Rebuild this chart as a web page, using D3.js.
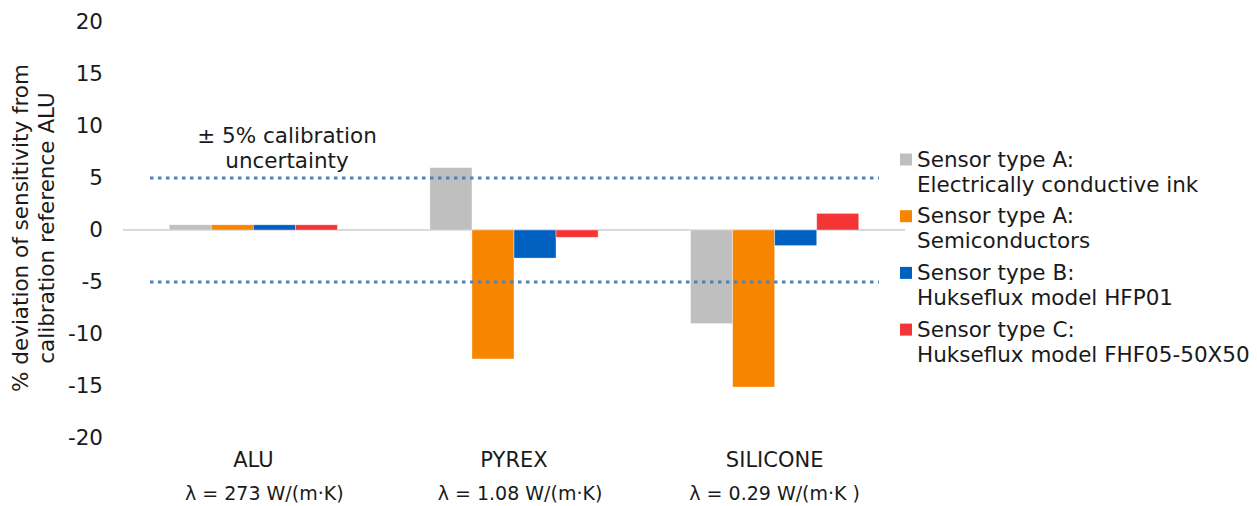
<!DOCTYPE html>
<html>
<head>
<meta charset="utf-8">
<script src="https://cdn.jsdelivr.net/npm/d3@7"></script>
<style>
  body { margin: 0; background: #fff; }
  svg { display: block; }
</style>
</head>
<body>
<svg id="chart" width="1257" height="506"></svg>
<script>
const materials = ["ALU", "PYREX", "SILICONE"];
const conductivity = ["λ = 273 W/(m·K)", "λ = 1.08 W/(m·K)", "λ = 0.29 W/(m·K )"];
const seriesNames = [
  ["Sensor type A:", "Electrically conductive ink"],
  ["Sensor type A:", "Semiconductors"],
  ["Sensor type B:", "Hukseflux model HFP01"],
  ["Sensor type C:", "Hukseflux model FHF05-50X50"]
];
const seriesColors = ["#bfbfbf", "#f88500", "#0060c0", "#f43535"];
// values per series, in material order
const inkValues = [0.5, 6.0, -9.0];
const semiValues = [0.5, -12.4, -15.1];
const hfp01Values = [0.5, -2.7, -1.5];
const fhf05Values = [0.5, -0.7, 1.6];
const seriesValues = [inkValues, semiValues, hfp01Values, fhf05Values];
const yTicks = [20, 15, 10, 5, 0, -5, -10, -15, -20];
const uncertaintyLimits = [5, -5];

const svg = d3.select("#chart");
const font = "DejaVu Sans, Verdana, sans-serif";
const ink = "#1a1a1a";

const x0 = d3.scaleBand().domain(materials).range([123, 905]).paddingInner(0).paddingOuter(0);
const x1 = d3.scaleBand().domain(d3.range(seriesValues.length))
  .range([0, x0.bandwidth()]).paddingOuter(1.1).paddingInner(0);
const y = d3.scaleLinear().domain([-20, 20]).range([438, 22]);

// y tick labels (plain hyphen like the original)
const yAxis = svg.append("g").attr("transform", "translate(103,0)")
  .call(d3.axisLeft(y).tickValues(yTicks).tickSize(0).tickPadding(0)
    .tickFormat(d => String(d)));
yAxis.select(".domain").remove();
yAxis.selectAll("text")
  .attr("font-family", font).attr("font-size", 21.5).attr("fill", ink);

// zero line
svg.append("line")
  .attr("x1", 123).attr("x2", 905)
  .attr("y1", y(0)).attr("y2", y(0))
  .attr("stroke", "#d9d9d9").attr("stroke-width", 2);

// bars
materials.forEach((m, mi) => {
  const g = svg.append("g").attr("transform", `translate(${x0(m)},0)`);
  seriesValues.forEach((vals, si) => {
    const v = vals[mi];
    g.append("rect")
      .attr("x", x1(si))
      .attr("width", x1.bandwidth())
      .attr("y", y(Math.max(0, v)))
      .attr("height", Math.abs(y(v) - y(0)))
      .attr("fill", seriesColors[si])
      .attr("stroke", "#fff").attr("stroke-opacity", 0.5).attr("stroke-width", 0.75);
  });
});

// uncertainty lines
svg.selectAll(".limit").data(uncertaintyLimits).join("line")
  .attr("class", "limit")
  .attr("x1", 150).attr("x2", 879)
  .attr("y1", d => y(d)).attr("y2", d => y(d))
  .attr("stroke", "#4f81bd").attr("stroke-width", 3.2)
  .attr("stroke-dasharray", "3.5,4.5");

// annotation
svg.append("text").attr("x", 287).attr("y", 143).attr("text-anchor", "middle")
  .attr("font-family", font).attr("font-size", 21.5).attr("fill", ink)
  .text("± 5% calibration");
svg.append("text").attr("x", 287).attr("y", 168).attr("text-anchor", "middle")
  .attr("font-family", font).attr("font-size", 21.5).attr("fill", ink)
  .text("uncertainty");

// y axis title
const yt = svg.append("text")
  .attr("transform", `translate(0,228) rotate(-90)`)
  .attr("text-anchor", "middle")
  .attr("font-family", font).attr("font-size", 21.5).attr("fill", ink);
yt.append("tspan").attr("x", 0).attr("y", 28).text("% deviation of sensitivity from");
yt.append("tspan").attr("x", 0).attr("y", 54).text("calibration reference ALU");

// category labels
svg.selectAll(".cat").data(materials).join("text")
  .attr("class", "cat")
  .attr("x", d => x0(d) + x0.bandwidth() / 2)
  .attr("y", 467)
  .attr("text-anchor", "middle")
  .attr("font-family", font).attr("font-size", 21).attr("fill", ink)
  .text(d => d);
// lambda text boxes sit slightly right of the category centre in the original
const lamShift = [11, 6, 0];
svg.selectAll(".lam").data(materials).join("text")
  .attr("class", "lam")
  .attr("x", (d, i) => x0(d) + x0.bandwidth() / 2 + lamShift[i])
  .attr("y", 499.5)
  .attr("text-anchor", "middle")
  .attr("font-family", font).attr("font-size", 19).attr("fill", ink)
  .text((d, i) => conductivity[i]);

// legend
const legend = svg.append("g").attr("transform", "translate(900,0)");
seriesNames.forEach((lines, i) => {
  const base = 166.5 + i * 56.7;
  legend.append("rect")
    .attr("x", 0).attr("y", base - 13).attr("width", 12).attr("height", 12)
    .attr("fill", seriesColors[i]);
  lines.forEach((t, li) => {
    legend.append("text")
      .attr("x", 17).attr("y", base + li * 25)
      .attr("font-family", font).attr("font-size", 21.5).attr("fill", ink)
      .text(t);
  });
});
</script>
</body>
</html>
